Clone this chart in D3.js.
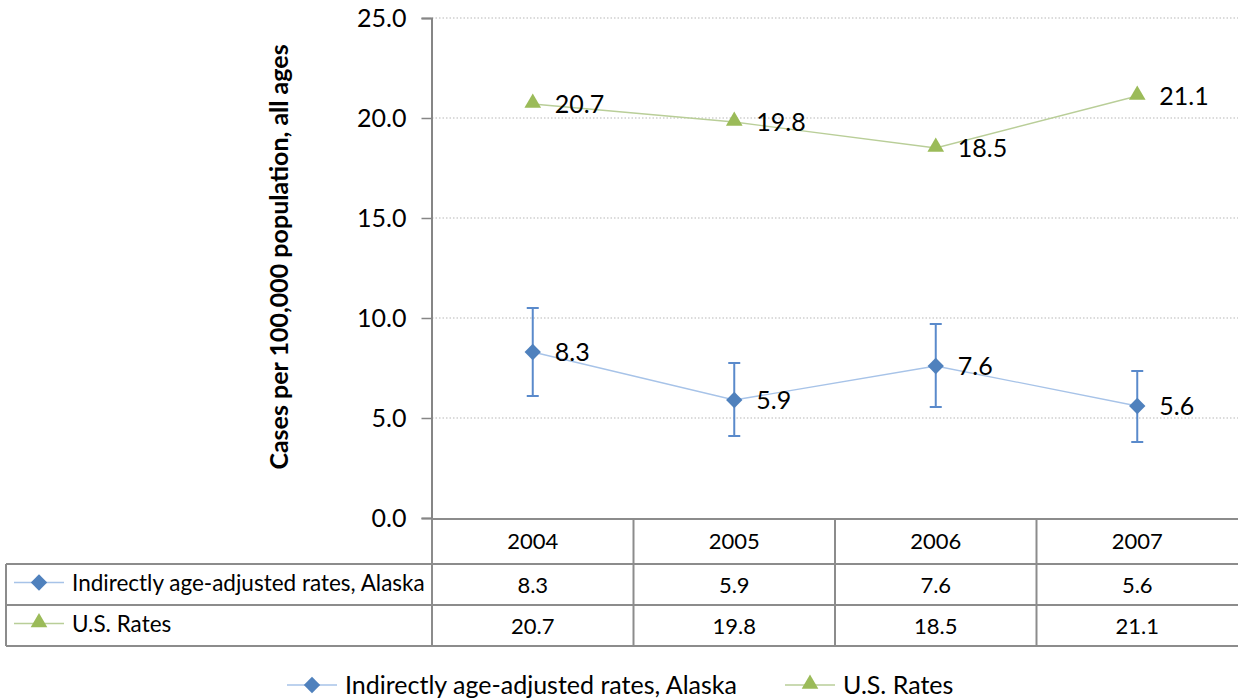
<!DOCTYPE html>
<html><head><meta charset="utf-8">
<script src="https://cdn.jsdelivr.net/npm/d3@7"></script>
<style>body{margin:0;background:#fff}svg{display:block;font-family:Lato,"Open Sans",sans-serif}</style>
</head><body>
<svg id="c" width="1238" height="698"></svg>
<script>
const years = ["2004","2005","2006","2007"];
const alaska = [8.3, 5.9, 7.6, 5.6];
const alaskaLow = [6.1, 4.1, 5.55, 3.8];
const alaskaHigh = [10.5, 7.75, 9.7, 7.35];
const us = [20.7, 19.8, 18.5, 21.1];
const yTicks = [0, 5, 10, 15, 20, 25];
const seriesNames = ["Indirectly age-adjusted rates, Alaska", "U.S. Rates"];
const yTitle = "Cases per 100,000 population, all ages";

const svg = d3.select("#c");
const pLeft = 432, pRight = 1238, pTop = 18, pBottom = 518;
const x = d3.scaleBand().domain(years).range([pLeft, pRight]);
const y = d3.scaleLinear().domain([0, 25]).range([pBottom, pTop]);
const cx = d => x(d) + x.bandwidth() / 2;
const blue = "#4F81BD", blueLine = "#A7C3E8", green = "#9BBB59", greenLine = "#B9CE98";
const grid = "#8C8C8C";

// gridlines
svg.append("g").selectAll("line").data(yTicks.filter(t => t > 0)).join("line")
  .attr("x1", pLeft).attr("x2", pRight).attr("y1", d => y(d)).attr("y2", d => y(d))
  .attr("stroke", "#D0D0D0").attr("stroke-width", 1.3).attr("stroke-dasharray", "1.5,2");

// y axis
const ya = svg.append("g").attr("transform", `translate(${pLeft - 0.5},0)`)
  .call(d3.axisLeft(y).tickValues(yTicks).tickFormat(d3.format(".1f")).tickSizeOuter(0).tickSize(10).tickPadding(15));
ya.attr("font-family", "Lato").attr("font-size", 25);
ya.select(".domain").attr("stroke", "#868686").attr("stroke-width", 2);
ya.selectAll(".tick line").attr("stroke", "#868686").attr("stroke-width", 1.5);
ya.selectAll(".tick text").attr("fill", "#000");

svg.append("text").attr("transform", `translate(288,257) rotate(-90)`)
  .attr("text-anchor", "middle").attr("font-size", 25).attr("font-weight", "bold").text(yTitle);

// lines
const line = d3.line().x((d, i) => cx(years[i])).y(d => y(d));
svg.append("path").datum(alaska).attr("d", line).attr("fill", "none").attr("stroke", blueLine).attr("stroke-width", 1.3);
svg.append("path").datum(us).attr("d", line).attr("fill", "none").attr("stroke", greenLine).attr("stroke-width", 1.3);

// error bars
const eb = svg.append("g").attr("stroke", "#5A8ACB").attr("stroke-width", 2);
years.forEach((yr, i) => {
  eb.append("line").attr("x1", cx(yr)).attr("x2", cx(yr)).attr("y1", y(alaskaLow[i])).attr("y2", y(alaskaHigh[i]));
  [alaskaLow[i], alaskaHigh[i]].forEach(v => eb.append("line").attr("x1", cx(yr) - 6).attr("x2", cx(yr) + 6).attr("y1", y(v)).attr("y2", y(v)));
});

const diamond = d3.symbol().type(d3.symbolDiamond2).size(170);
const tri = d3.symbol().type(d3.symbolTriangle).size(120);
svg.append("g").selectAll("path").data(alaska).join("path")
  .attr("d", diamond).attr("fill", blue).attr("transform", (d, i) => `translate(${cx(years[i])},${y(d)})`);
svg.append("g").selectAll("path").data(us).join("path")
  .attr("d", tri).attr("fill", green).attr("transform", (d, i) => `translate(${cx(years[i])},${y(d) - 1})`);

// data labels
const lbl = (arr) => svg.append("g").selectAll("text").data(arr).join("text")
  .attr("x", (d, i) => cx(years[i]) + 22).attr("y", d => y(d) + 9)
  .attr("font-size", 25).attr("fill", "#000").text(d => d3.format(".1f")(d));
lbl(alaska); lbl(us);

// data table
const rowY = [519, 564, 605, 646];
const tg = svg.append("g").attr("stroke", grid).attr("stroke-width", 2);
tg.append("line").attr("x1", pLeft).attr("x2", pRight).attr("y1", rowY[0]).attr("y2", rowY[0]);
[1, 2, 3].forEach(r => tg.append("line").attr("x1", 6).attr("x2", pRight).attr("y1", rowY[r]).attr("y2", rowY[r]));
tg.append("line").attr("x1", 6).attr("x2", 6).attr("y1", rowY[1]).attr("y2", rowY[3]);
years.forEach(yr => tg.append("line").attr("x1", x(yr)).attr("x2", x(yr)).attr("y1", rowY[0]).attr("y2", rowY[3]));

svg.append("g").selectAll("text").data(years).join("text")
  .attr("x", d => cx(d)).attr("y", (rowY[0] + rowY[1]) / 2 + 7).attr("text-anchor", "middle")
  .attr("font-size", 22).text(d => d);
[alaska, us].forEach((arr, r) => {
  svg.append("g").selectAll("text").data(arr).join("text")
    .attr("x", (d, i) => cx(years[i])).attr("y", (rowY[r + 1] + rowY[r + 2]) / 2 + 8).attr("text-anchor", "middle")
    .attr("font-size", 22).text(d => d3.format(".1f")(d));
});

function legendKey(g, i, x0, yc) {
  g.append("line").attr("x1", x0).attr("x2", x0 + 50).attr("y1", yc).attr("y2", yc)
    .attr("stroke", i === 0 ? blueLine : greenLine).attr("stroke-width", 1.3);
  g.append("path").attr("d", i === 0 ? diamond : tri).attr("fill", i === 0 ? blue : green)
    .attr("transform", `translate(${x0 + 25},${yc - (i === 0 ? 0 : 1)})`);
}
seriesNames.forEach((n, i) => {
  const yc = (rowY[i + 1] + rowY[i + 2]) / 2 - 2;
  legendKey(svg, i, 14, yc);
  svg.append("text").attr("x", 72).attr("y", yc + 8).attr("font-size", 22.5).text(n);
});

// bottom legend
const legX = [287, 785];
seriesNames.forEach((n, i) => {
  legendKey(svg, i, legX[i], 685);
  svg.append("text").attr("x", legX[i] + 58).attr("y", 694).attr("font-size", 25).text(n);
});
</script>
</body></html>
